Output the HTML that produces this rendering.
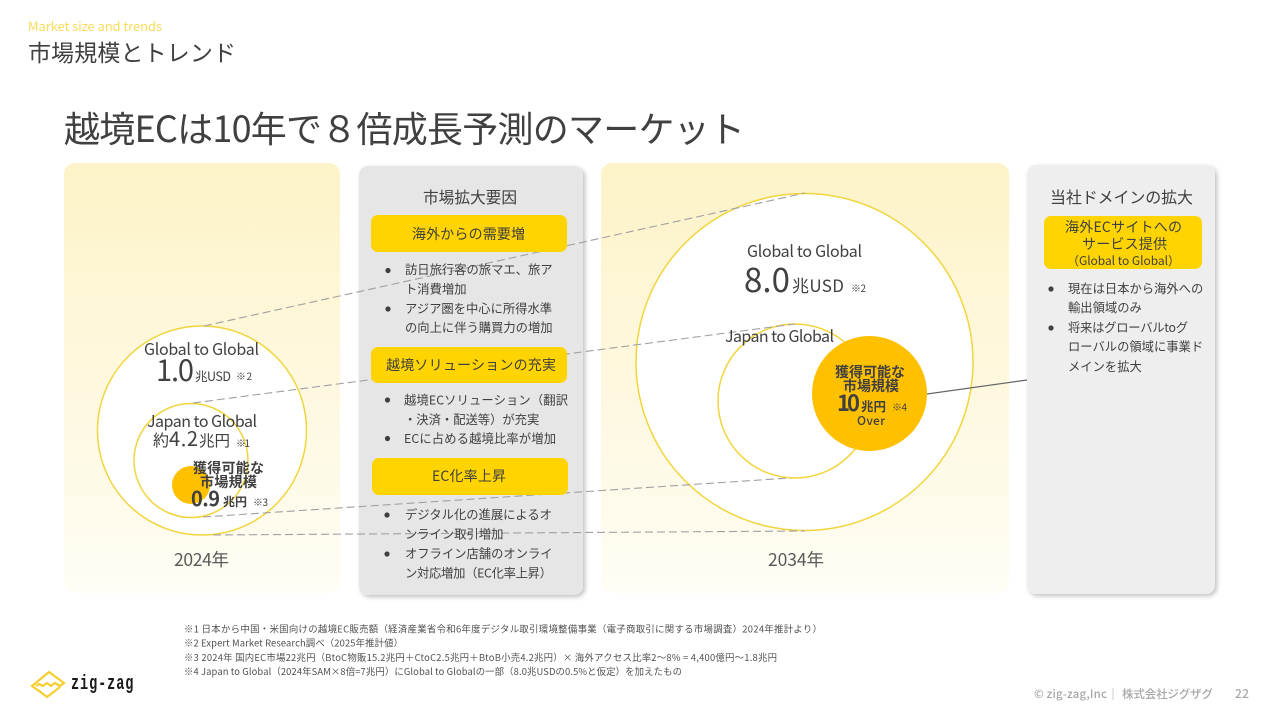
<!DOCTYPE html>
<html lang="ja"><head><meta charset="utf-8"><title>市場規模とトレンド</title>
<style>
html,body{margin:0;padding:0;background:#fff;width:1280px;height:720px;overflow:hidden}
svg{display:block}
text{font-family:"Noto Sans CJK JP","Liberation Sans",sans-serif;fill:#404040}
.b{font-weight:700}
.fn{font-size:9.4px;fill:#505050}
.li{font-size:12.3px}
.ft{font-size:11.5px;fill:#a6a6a6;font-weight:500}
</style></head><body>
<svg xmlns="http://www.w3.org/2000/svg" width="1280" height="720" viewBox="0 0 1280 720">
<defs>
<linearGradient id="g" x1="0" y1="0" x2="0" y2="1"><stop offset="0" stop-color="#fdf3c8"/><stop offset="1" stop-color="#fffdf5"/></linearGradient>
<filter id="s" x="-10%" y="-10%" width="120%" height="120%"><feDropShadow dx="2" dy="2" stdDeviation="2.5" flood-color="#000" flood-opacity=".25"/></filter>
</defs>
<rect width="1280" height="720" fill="#fff"/>

<text x="28" y="31" font-size="13" textLength="134" style="fill:#f9dc5c">Market size and trends</text>
<text x="28" y="61" font-size="23" textLength="208">市場規模とトレンド</text>
<text x="64" y="142" font-size="36" textLength="681">越境ECは10年で８倍成長予測のマーケット</text>

<rect x="64" y="163" width="276" height="430" rx="11" fill="url(#g)"/>
<rect x="601" y="163" width="408" height="430" rx="11" fill="url(#g)"/>
<rect x="359" y="166" width="224" height="429" rx="9" fill="#e6e6e6" filter="url(#s)"/>
<rect x="1027" y="165" width="188" height="429" rx="9" fill="#eeeeee" filter="url(#s)"/>

<circle cx="202" cy="430.5" r="104.5" fill="#fff" stroke="#f2d53c" stroke-width="1.5"/>
<circle cx="191" cy="485" r="19" fill="#ffc000"/>
<circle cx="191" cy="460.5" r="57" fill="none" stroke="#f2d53c" stroke-width="1.5"/>
<circle cx="804.5" cy="362" r="168.5" fill="#fff" stroke="#f2d53c" stroke-width="1.5"/>
<circle cx="795" cy="401" r="77" fill="#fff" stroke="#f2d53c" stroke-width="1.5"/>
<circle cx="869.5" cy="393.5" r="57.5" fill="#ffc000"/>

<g stroke="#a0a0a0" stroke-width="1.1" stroke-dasharray="8 4" fill="none">
<line x1="204" y1="326" x2="805" y2="193"/>
<line x1="193" y1="403" x2="795" y2="324"/>
<line x1="203" y1="517" x2="790" y2="478"/>
<line x1="213" y1="535" x2="805" y2="531"/>
</g>
<line x1="927" y1="394" x2="1027" y2="380" stroke="#666" stroke-width="1.2"/>

<g fill="#ffd400">
<rect x="371" y="215" width="196" height="37" rx="7"/>
<rect x="371" y="347" width="196" height="36" rx="7"/>
<rect x="372" y="458" width="196" height="37" rx="7"/>
<rect x="1044" y="216" width="158" height="53" rx="7"/>
</g>

<!-- 2024 circle -->
<text x="144" y="355" font-size="16" textLength="115">Global to Global</text>
<text x="156" y="381" font-size="29" textLength="38">1.0</text>
<text x="195" y="381" font-size="12.5" textLength="36">兆USD</text>
<text x="236" y="380" font-size="10" textLength="16">※2</text>
<text x="147" y="427" font-size="16" textLength="110">Japan to Global</text>
<text x="153" y="446" font-size="16">約</text>
<text x="169" y="446" font-size="20" textLength="29">4.2</text>
<text x="199" y="446" font-size="15.5" textLength="31">兆円</text>
<text x="236" y="447" font-size="10" textLength="14">※1</text>
<text class="b" x="193" y="473" font-size="14" textLength="71">獲得可能な</text>
<text class="b" x="200" y="487" font-size="14" textLength="57">市場規模</text>
<text class="b" x="191" y="506" font-size="20" textLength="29">0.9</text>
<text class="b" x="223" y="506" font-size="12" textLength="24">兆円</text>
<text x="253" y="506" font-size="10" textLength="15">※3</text>
<text x="174" y="566" font-size="17.5" textLength="55" style="fill:#595959">2024年</text>

<!-- middle panel -->
<text x="423" y="203" font-size="15.7" textLength="94">市場拡大要因</text>
<text x="412" y="239" font-size="14" textLength="113">海外からの需要増</text>
<g fill="#404040">
<circle cx="388" cy="270.5" r="2.6"/><circle cx="388" cy="309" r="2.6"/>
<circle cx="387.5" cy="400" r="2.6"/><circle cx="387.5" cy="438.5" r="2.6"/>
<circle cx="387" cy="515" r="2.6"/><circle cx="387" cy="554" r="2.6"/>
<circle cx="1051" cy="289" r="2.6"/><circle cx="1051" cy="328" r="2.6"/>
</g>
<text class="li" x="405" y="274">訪日旅行客の旅マエ、旅ア</text>
<text class="li" x="405" y="293.5">ト消費増加</text>
<text class="li" x="405" y="313">アジア圏を中心に所得水準</text>
<text class="li" x="405" y="332">の向上に伴う購買力の増加</text>
<text x="386" y="370" font-size="14" textLength="170">越境ソリューションの充実</text>
<text class="li" x="404" y="404.5" textLength="164">越境ECソリューション（翻訳</text>
<text class="li" x="404" y="424">・決済・配送等）が充実</text>
<text class="li" x="404" y="443" textLength="152">ECに占める越境比率が増加</text>
<text x="432" y="481" font-size="14" textLength="74">EC化率上昇</text>
<text class="li" x="405" y="519">デジタル化の進展によるオ</text>
<text class="li" x="405" y="538.5">ンライン取引増加</text>
<text class="li" x="405" y="558">オフライン店舗のオンライ</text>
<text class="li" x="405" y="577.5" textLength="147">ン対応増加（EC化率上昇）</text>

<!-- 2034 circle -->
<text x="747" y="257" font-size="16" textLength="115">Global to Global</text>
<text x="744" y="292" font-size="33" textLength="46">8.0</text>
<text x="792" y="292" font-size="17" textLength="52">兆USD</text>
<text x="851" y="292" font-size="10" textLength="15">※2</text>
<text x="725" y="342" font-size="16" textLength="109">Japan to Global</text>
<text class="b" x="835" y="377" font-size="14" textLength="70">獲得可能な</text>
<text class="b" x="843" y="391" font-size="14" textLength="56">市場規模</text>
<text class="b" x="837" y="411" font-size="22" textLength="23">10</text>
<text class="b" x="861" y="411" font-size="12.5" textLength="25">兆円</text>
<text x="892" y="411" font-size="10" textLength="15">※4</text>
<text x="857" y="425" font-size="12" textLength="28" style="font-weight:500">Over</text>
<text x="768" y="566" font-size="17.5" textLength="56" style="fill:#595959">2034年</text>

<!-- right panel -->
<text x="1050" y="203" font-size="16" textLength="143">当社ドメインの拡大</text>
<text x="1065" y="232" font-size="14" textLength="117">海外ECサイトへの</text>
<text x="1082" y="249" font-size="14" textLength="85">サービス提供</text>
<text x="1067" y="265" font-size="12" textLength="113">（Global to Global）</text>
<text class="li" x="1068" y="293">現在は日本から海外への</text>
<text class="li" x="1068" y="312">輸出領域のみ</text>
<text class="li" x="1068" y="332" textLength="120">将来はグローバルtoグ</text>
<text class="li" x="1068" y="351">ローバルの領域に事業ド</text>
<text class="li" x="1068" y="371">メインを拡大</text>

<!-- footnotes -->
<text class="fn" x="184" y="632.5" textLength="638">※1 日本から中国・米国向けの越境EC販売額（経済産業省令和6年度デジタル取引環境整備事業（電子商取引に関する市場調査）2024年推計より）</text>
<text class="fn" x="184" y="646.5" textLength="219">※2 Expert Market Research調べ（2025年推計値）</text>
<text class="fn" x="184" y="661" textLength="593">※3 2024年 国内EC市場22兆円（BtoC物販15.2兆円＋CtoC2.5兆円＋BtoB小売4.2兆円）× 海外アクセス比率2～8% = 4,400億円～1.8兆円</text>
<text class="fn" x="184" y="675" textLength="498">※4  Japan to Global（2024年SAM×8倍=7兆円）にGlobal to Globalの一部（8.0兆USDの0.5%と仮定）を加えたもの</text>

<!-- logo -->
<g fill="none" stroke="#f5cf2f" stroke-width="2.2" stroke-linejoin="miter">
<polyline points="39,691 32,686 49,672 64,683 60,686 55,683 51,686 47,683 43,686 39,684 36,686"/>
<polyline points="38,690 47,697 60,687"/>
</g>
<text transform="translate(71,689) scale(.8,1.2)" x="0" y="0" font-size="17" textLength="78" style="font-family:'Liberation Mono',monospace;font-weight:700;fill:#1a1a1a">zig-zag</text>

<!-- footer -->
<text class="ft" x="1034" y="698" textLength="73">© zig-zag,Inc</text>
<line x1="1113" y1="688" x2="1113" y2="700" stroke="#cfcfcf" stroke-width="1"/>
<text class="ft" x="1122" y="698" textLength="91">株式会社ジグザグ</text>
<text class="ft" x="1235" y="698" style="font-size:12px" textLength="14">22</text>
</svg>
</body></html>
